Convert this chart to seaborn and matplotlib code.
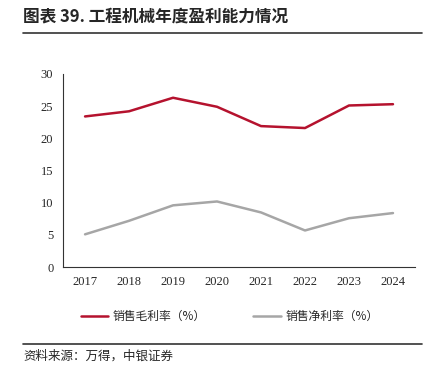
import pandas as pd
import matplotlib.pyplot as plt
import seaborn as sns
from matplotlib.lines import Line2D

# ---------- DATA ----------
years = ["2017", "2018", "2019", "2020", "2021", "2022", "2023", "2024"]
gross_margin = [23.4, 24.2, 26.3, 24.9, 21.9, 21.6, 25.1, 25.3]
net_margin = [5.1, 7.2, 9.6, 10.2, 8.5, 5.7, 7.6, 8.4]
series_names = ["销售毛利率（%）", "销售净利率（%）"]
colors = ["#B5122E", "#A6A6A6"]

df = pd.DataFrame({
    "year": years * 2,
    "value": gross_margin + net_margin,
    "series": [series_names[0]] * len(years) + [series_names[1]] * len(years),
})

sns.set_style("white")
plt.rcParams["font.family"] = ["Liberation Serif", "Noto Sans CJK SC", "DejaVu Sans"]
cjk = ["Noto Sans CJK SC", "DejaVu Sans"]

fig = plt.figure(figsize=(4.41, 3.85), dpi=100)
ax = fig.add_axes([0.143, 0.306, 0.798, 0.502])

sns.lineplot(data=df, x="year", y="value", hue="series", palette=colors,
             linewidth=1.8, legend=False, ax=ax)

# ---------- AXES ----------
ax.set_ylim(0, 30)
ax.set_yticks(range(0, 31, 5))
ax.set_xlim(-0.5, len(years) - 0.5)
ax.set_xticks(range(len(years)))
ax.set_xticklabels(years)
ax.set_xticks([i - 0.5 for i in range(len(years) + 1)], minor=True)
ax.tick_params(axis="x", which="major", length=0, pad=6, labelsize=9)
ax.tick_params(axis="x", which="minor", length=4, width=0.8, color="#333333", direction="out")
ax.tick_params(axis="y", length=4, width=0.8, color="#333333", direction="out", labelsize=9, pad=3)
ax.set_xlabel("")
ax.set_ylabel("")
for side in ["top", "right"]:
    ax.spines[side].set_visible(False)
for side in ["left", "bottom"]:
    ax.spines[side].set_color("#333333")
    ax.spines[side].set_linewidth(0.8)

# ---------- LEGEND ----------
handles = [Line2D([0], [0], color=c, lw=1.8) for c in colors]
fig.legend(handles, series_names, loc="center left", bbox_to_anchor=(0.16, 0.178),
           ncol=2, frameon=False, columnspacing=4.0, handlelength=2.3, handletextpad=0.4,
           prop={"family": cjk, "size": 8.5})

# ---------- TITLE / SOURCE ----------
fig.text(0.052, 0.935, "图表 39. 工程机械年度盈利能力情况", fontsize=12, fontweight="bold",
         family=cjk, va="bottom")
fig.add_artist(Line2D([0.052, 0.957], [0.914, 0.914], color="#333333", lw=1.2))
fig.add_artist(Line2D([0.052, 0.957], [0.106, 0.106], color="#333333", lw=1.2))
fig.text(0.052, 0.075, "资料来源：万得，中银证券", fontsize=9, style="italic",
         family=cjk, va="center")

fig.savefig("out.png", dpi=100)
plt.close(fig)
